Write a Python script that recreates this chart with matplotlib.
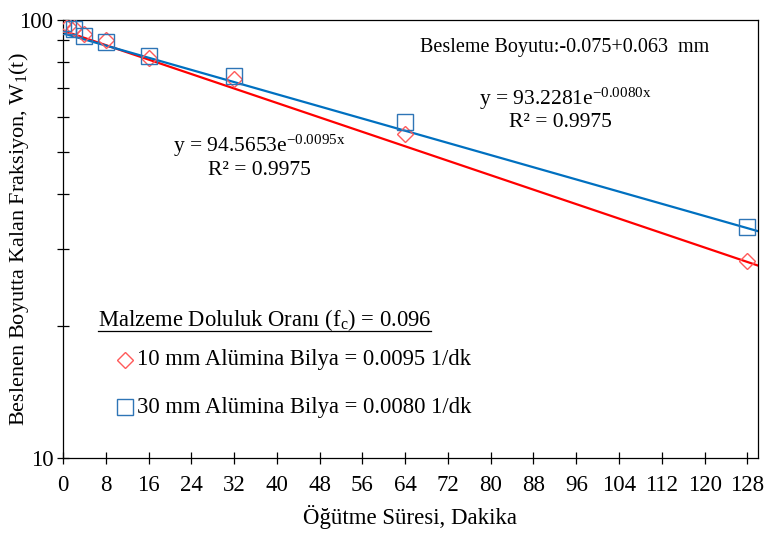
import numpy as np
import matplotlib
matplotlib.use("Agg")
import matplotlib.pyplot as plt
from matplotlib.lines import Line2D

plt.rcParams['font.family'] = ['Liberation Serif', 'DejaVu Serif']
plt.rcParams['mathtext.fontset'] = 'custom'
plt.rcParams['mathtext.rm'] = 'Liberation Serif'
plt.rcParams['mathtext.it'] = 'Liberation Serif:italic'

# grinding times (min)
t = [0, 1, 2, 4, 8, 16, 32, 64, 128]
# fraction remaining in feed size, %
w_10mm = [98.0, 97.0, 96.0, 93.0, 90.0, 81.8, 73.2, 54.9, 28.1]
w_30mm = [98.6, 96.9, 95.2, 91.9, 89.0, 82.8, 74.5, 58.4, 33.7]
# fitted first-order trendlines: a * exp(b * x)
fit_10mm = [94.5653, -0.0095]
fit_30mm = [93.2281, -0.0080]
xticks = list(range(0, 129, 8))

fig = plt.figure(figsize=(7.66, 5.35), dpi=100)
ax = fig.add_axes([0.0822, 0.1439, 0.9074, 0.8187])

xx = np.linspace(0, 130, 300)
ax.plot(xx, fit_10mm[0] * np.exp(fit_10mm[1] * xx), color='#FF0000', lw=1.6, zorder=2)
ax.plot(xx, fit_30mm[0] * np.exp(fit_30mm[1] * xx), color='#0070C0', lw=1.6, zorder=2)
ax.plot(t, w_10mm, ls='none', marker='D', ms=8.5, mfc='none', mec='#FF5A5A', mew=1.0, zorder=3)
ax.plot(t, w_30mm, ls='none', marker='s', ms=11.5, mfc='none', mec='#2E75B6', mew=1.0, zorder=3)

ax.set_yscale('log')
ax.set_ylim(10, 100)
ax.set_xlim(0, 130)
ax.set_xticks(xticks)
ax.set_xticklabels([str(v) for v in xticks])
ax.set_yticks([10, 100])
ax.set_yticklabels(['10', '100'])
ax.set_yticks([20, 30, 40, 50, 60, 70, 80, 90], minor=True)
ax.yaxis.set_minor_formatter(plt.NullFormatter())
ax.tick_params(axis='both', which='both', direction='inout', length=8, width=0.9,
               labelsize=16.5, top=False, right=False)
ax.tick_params(axis='x', pad=8)
ax.tick_params(axis='y', pad=3)
for s in ax.spines.values():
    s.set_linewidth(0.9)

ax.set_xlabel('Öğütme Süresi, Dakika', fontsize=16.5, labelpad=7)
ax.set_ylabel('Beslenen Boyutta Kalan Fraksiyon, W$_1$(t)', fontsize=16)
ax.yaxis.set_label_coords(-0.046, 0.5)

ax.text(0.722, 0.937, 'Besleme Boyutu:-0.075+0.063  mm', transform=ax.transAxes,
        ha='center', va='center', fontsize=14.5)
ax.text(0.722, 0.82, r'y = 93.2281e$^{\mathrm{-0.0080x}}$', transform=ax.transAxes,
        ha='center', va='center', fontsize=15.5)
ax.text(0.715, 0.767, 'R² = 0.9975', transform=ax.transAxes,
        ha='center', va='center', fontsize=15.5)
ax.text(0.283, 0.712, r'y = 94.5653e$^{\mathrm{-0.0095x}}$', transform=ax.transAxes,
        ha='center', va='center', fontsize=15.5)
ax.text(0.283, 0.656, 'R² = 0.9975', transform=ax.transAxes,
        ha='center', va='center', fontsize=15.5)

# legend block
fs = 16.3
title = ax.text(0.05, 0.315, 'Malzeme Doluluk Oranı (f$_\\mathrm{c}$) = 0.096', transform=ax.transAxes,
                ha='left', va='center', fontsize=fs)
ax.text(0.106, 0.224, '10 mm Alümina Bilya = 0.0095 1/dk', transform=ax.transAxes,
        ha='left', va='center', fontsize=fs)
ax.text(0.106, 0.116, '30 mm Alümina Bilya = 0.0080 1/dk', transform=ax.transAxes,
        ha='left', va='center', fontsize=fs)
ax.plot([0.089], [0.224], transform=ax.transAxes, marker='D', ms=8.5, mfc='none',
        mec='#FF5A5A', mew=1.0, clip_on=False)
ax.plot([0.089], [0.116], transform=ax.transAxes, marker='s', ms=11, mfc='none',
        mec='#2E75B6', mew=1.0, clip_on=False)

# underline the legend title
fig.canvas.draw()
bb = title.get_window_extent().transformed(ax.transAxes.inverted())
ax.add_line(Line2D([bb.x0, bb.x1], [bb.y0 + 0.004, bb.y0 + 0.004], transform=ax.transAxes,
                   color='black', lw=0.9))

fig.savefig('out.png', dpi=100)
